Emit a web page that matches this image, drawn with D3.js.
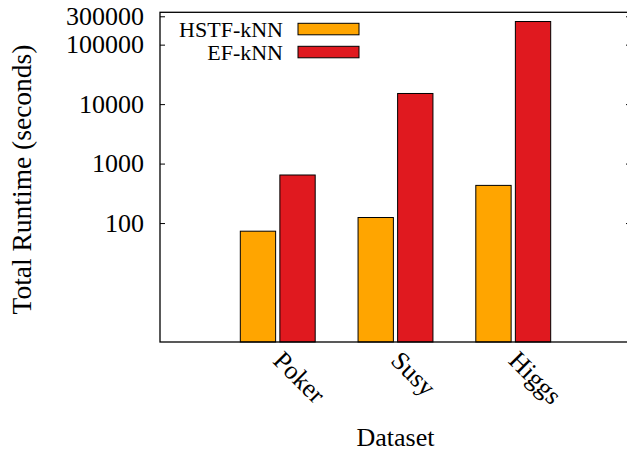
<!DOCTYPE html>
<html>
<head>
<meta charset="utf-8">
<script src="https://cdn.jsdelivr.net/npm/d3@7"></script>
<style>
  body { margin: 0; background: #fff; }
  svg { display: block; font-family: "Liberation Serif", "Times New Roman", serif; }
</style>
</head>
<body>
<div id="vis"></div>
<script>
// Data
const datasets = ["Poker", "Susy", "Higgs"];
const seriesNames = ["HSTF-kNN", "EF-kNN"];
const hstfValues = [73, 124, 430];
const efValues = [643, 15100, 245000];
const yTicks = [100, 1000, 10000, 100000, 300000];
const seriesColors = ["#ffa500", "#e0191f"];

const width = 627;
const height = 453;
const margin = { top: 12.3, right: -4, bottom: 111, left: 160 };

const svg = d3.select("#vis")
  .append("svg")
  .attr("width", width)
  .attr("height", height);

// Scales: categories at 0,1,2 on a [-1,3] range
const xScale = d3.scaleLinear()
  .domain([-1, 3])
  .range([margin.left, width - margin.right]);

const yScale = d3.scaleLog()
  .domain([1, 350000])
  .range([height - margin.bottom, margin.top]);

const boxWidth = 0.3;
const offsets = [-0.168, 0.168];
const allSeries = [hstfValues, efValues];

// Bars
allSeries.forEach((vals, s) => {
  svg.append("g")
    .selectAll("rect")
    .data(vals)
    .enter()
    .append("rect")
    .attr("x", (d, i) => xScale(i + offsets[s] - boxWidth / 2))
    .attr("width", xScale(boxWidth) - xScale(0))
    .attr("y", d => yScale(d))
    .attr("height", d => yScale(1) - yScale(d))
    .attr("fill", seriesColors[s])
    .attr("stroke", "#000")
    .attr("stroke-width", 1);
});

// Frame
const x0 = xScale(-1), x1 = xScale(3);
const y0 = yScale(1), y1 = yScale(350000);
svg.append("rect")
  .attr("x", x0)
  .attr("y", y1)
  .attr("width", x1 - x0)
  .attr("height", y0 - y1)
  .attr("fill", "none")
  .attr("stroke", "#000")
  .attr("stroke-width", 1.3);

// Y axis (left, ticks inward) and mirror ticks on the right
svg.append("g")
  .attr("transform", `translate(${x0},0)`)
  .call(d3.axisRight(yScale).tickValues(yTicks).tickSize(5).tickFormat(""))
  .call(g => g.select(".domain").remove())
  .selectAll("line").attr("stroke", "#000");

svg.append("g")
  .attr("transform", `translate(${x1},0)`)
  .call(d3.axisLeft(yScale).tickValues(yTicks).tickSize(5).tickFormat(""))
  .call(g => g.select(".domain").remove())
  .selectAll("line").attr("stroke", "#000");

// Y tick labels
svg.append("g")
  .selectAll("text")
  .data(yTicks)
  .enter()
  .append("text")
  .attr("x", 144)
  .attr("y", d => yScale(d))
  .attr("dy", "0.33em")
  .attr("text-anchor", "end")
  .attr("font-size", "26px")
  .attr("fill", "#000")
  .text(d => d);

// X labels, rotated
svg.append("g")
  .selectAll("text")
  .data(datasets)
  .enter()
  .append("text")
  .attr("transform", (d, i) => `translate(${xScale(i) - 6},${y0 + 20}) rotate(45)`)
  .attr("font-size", "26px")
  .attr("fill", "#000")
  .text(d => d);

// Axis titles
svg.append("text")
  .attr("x", xScale(1))
  .attr("y", 446)
  .attr("text-anchor", "middle")
  .attr("font-size", "26px")
  .text("Dataset");

svg.append("text")
  .attr("transform", `translate(31,179.5) rotate(-90)`)
  .attr("text-anchor", "middle")
  .attr("font-size", "27.5px")
  .text("Total Runtime (seconds)");

// Legend
const legend = svg.append("g");
seriesNames.forEach((name, i) => {
  const yPos = 29 + i * 23;
  legend.append("text")
    .attr("x", 283)
    .attr("y", yPos)
    .attr("dy", "0.35em")
    .attr("text-anchor", "end")
    .attr("font-size", "22px")
    .text(name);
  legend.append("rect")
    .attr("x", 298)
    .attr("y", yPos - 5.7)
    .attr("width", 61)
    .attr("height", 11.5)
    .attr("fill", seriesColors[i])
    .attr("stroke", "#000")
    .attr("stroke-width", 1);
});
</script>
</body>
</html>
